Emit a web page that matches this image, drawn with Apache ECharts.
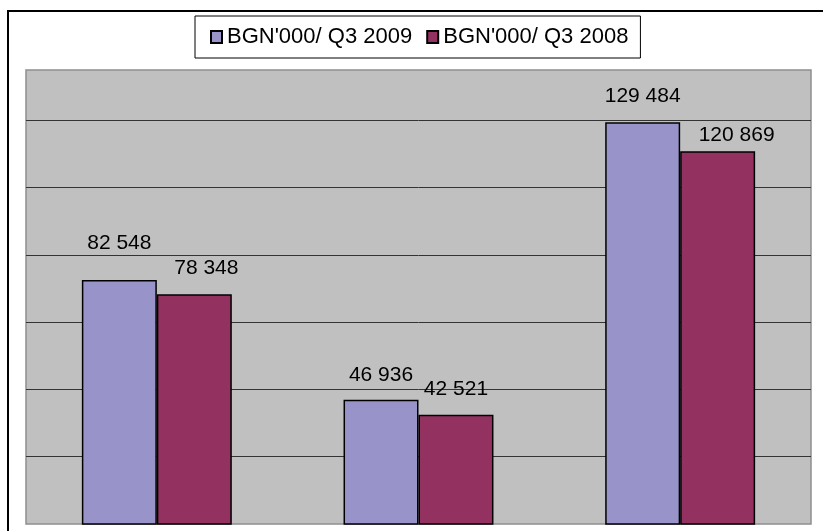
<!DOCTYPE html>
<html>
<head>
<meta charset="utf-8">
<script src="https://cdn.jsdelivr.net/npm/echarts@6/dist/echarts.min.js"></script>
<style>
html,body{margin:0;padding:0;background:#fff;}
#chart{width:823px;height:531px;}
</style>
</head>
<body>
<div id="chart"></div>
<script>
// ---- data ----
var categories = ['Category 1', 'Category 2', 'Category 3'];
var seriesNames = ["BGN'000/ Q3 2009", "BGN'000/ Q3 2008"];
var values2009 = [82548, 46936, 129484];
var values2008 = [78348, 42521, 120869];

// ---- label placement (style, not data) ----
var labelDist2009 = [37, 25, 26];
var labelShift2009 = [0, 0, 0];
var labelDist2008 = [26, 25, 16];
var labelShift2008 = [12, 0, 19];

function fmt(v) {
  return String(v).replace(/\B(?=(\d{3})+(?!\d))/g, ' ');
}
function buildData(vals, dists, shifts) {
  return vals.map(function (v, i) {
    return { value: v, label: { distance: dists[i], offset: [shifts[i], 0] } };
  });
}

var chart = echarts.init(document.getElementById('chart'), null, { renderer: 'canvas' });
var FONT = '"Liberation Sans", Arial, sans-serif';
var labelBase = {
  show: true,
  position: 'top',
  verticalAlign: 'middle',
  align: 'center',
  color: '#000',
  fontSize: 21,
  fontFamily: FONT,
  formatter: function (p) { return fmt(p.value); }
};

chart.setOption({
  animation: false,
  backgroundColor: '#ffffff',
  textStyle: { fontFamily: FONT },
  graphic: [{
    type: 'rect',
    shape: { x: 8, y: 11, width: 840, height: 560 },
    style: { fill: 'none', stroke: '#000', lineWidth: 2 },
    silent: true,
    z: -10
  }],
  legend: {
    left: 195,
    top: 16,
    orient: 'horizontal',
    backgroundColor: '#fff',
    borderColor: '#000',
    borderWidth: 1,
    padding: [10, 12, 10, 15],
    itemGap: 14,
    itemWidth: 11,
    itemHeight: 12,
    icon: 'rect',
    textStyle: { fontSize: 22, color: '#000', fontFamily: FONT },
    data: seriesNames
  },
  grid: {
    left: 26,
    right: 12,
    top: 70,
    bottom: 7,
    show: true,
    backgroundColor: '#c0c0c0',
    borderColor: '#8e8e8e',
    borderWidth: 1.5,
    containLabel: false
  },
  xAxis: {
    type: 'category',
    data: categories,
    axisLine: { show: false },
    axisTick: { show: false },
    axisLabel: { show: false },
    splitLine: { show: false }
  },
  yAxis: {
    type: 'value',
    min: 10000,
    max: 145000,
    interval: 20000,
    axisLine: { show: false },
    axisTick: { show: false },
    axisLabel: { show: false },
    splitLine: {
      show: true,
      showMinLine: false,
      showMaxLine: false,
      lineStyle: { color: '#333333', width: 1 }
    }
  },
  series: [{
    name: seriesNames[0],
    type: 'bar',
    barGap: '0%',
    barCategoryGap: '42.7%',
    itemStyle: { color: '#9894c9', borderColor: '#000', borderWidth: 1.5 },
    label: labelBase,
    data: buildData(values2009, labelDist2009, labelShift2009)
  }, {
    name: seriesNames[1],
    type: 'bar',
    barGap: '0%',
    barCategoryGap: '42.7%',
    itemStyle: { color: '#933260', borderColor: '#000', borderWidth: 1.5 },
    label: labelBase,
    data: buildData(values2008, labelDist2008, labelShift2008)
  }]
});
</script>
</body>
</html>
